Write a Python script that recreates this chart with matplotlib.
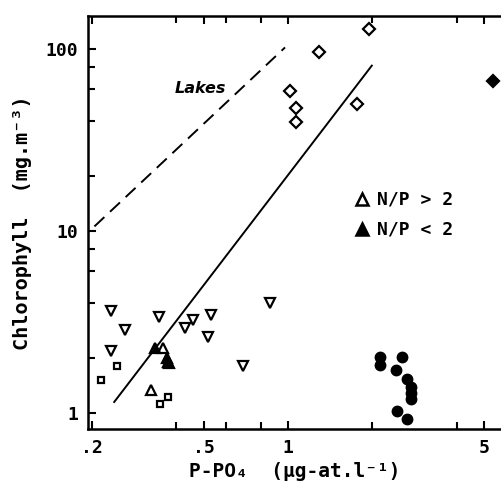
import matplotlib
matplotlib.use("Agg")
import matplotlib.pyplot as plt
from matplotlib.ticker import FixedLocator, FixedFormatter, NullFormatter

# ---- data ----
diamond_open_x = [1.95, 1.29, 1.02, 1.07, 1.07, 1.76]
diamond_open_y = [128, 96, 58.8, 47.6, 39.7, 50]
diamond_fill_x = [5.37]
diamond_fill_y = [66.7]

tri_down_x = [0.234, 0.348, 0.262, 0.459, 0.430, 0.530, 0.520, 0.234, 0.689, 0.863]
tri_down_y = [3.65, 3.36, 2.86, 3.24, 2.92, 3.45, 2.63, 2.20, 1.81, 4.04]

tri_up_open_x = [0.324, 0.359, 0.377]
tri_up_open_y = [1.34, 2.27, 1.88]
tri_up_fill_x = [0.336, 0.369, 0.372]
tri_up_fill_y = [2.27, 2.00, 1.91]

square_x = [0.215, 0.245, 0.350, 0.374]
square_y = [1.52, 1.82, 1.12, 1.23]

circle_x = [2.13, 2.13, 2.54, 2.43, 2.65, 2.75, 2.75, 2.75, 2.44, 2.65]
circle_y = [2.04, 1.84, 2.02, 1.72, 1.53, 1.39, 1.29, 1.20, 1.03, 0.923]

fit_x = [0.240, 1.99]
fit_y = [1.15, 81]
lakes_x = [0.204, 0.976]
lakes_y = [10.6, 102]

x_major = [0.2, 0.5, 1, 5]
x_major_labels = [".2", ".5", "1", "5"]
x_minor = [0.4, 0.6, 0.8, 2, 4]
y_major = [1, 10, 100]
y_major_labels = ["1", "10", "100"]
y_minor = [2, 4, 6, 8, 20, 40, 60, 80]

legend_labels = ["N/P > 2", "N/P < 2"]

# ---- figure ----
mono = "DejaVu Sans Mono"
fig = plt.figure(figsize=(5.01, 4.86), dpi=100)
L, B = 88 / 501, (486 - 429) / 486
ax = fig.add_axes([L, B, 1.0 - L, (429 - 16) / 486])
ax.set_xscale("log")
ax.set_yscale("log")
ax.set_xlim(0.1935, 5.75)
ax.set_ylim(0.817, 151.8)

k = "black"
ax.plot(lakes_x, lakes_y, color=k, lw=1.4, dashes=(7, 4))
ax.plot(fit_x, fit_y, color=k, lw=1.4)

ms = 7.5
mew = 1.6
ax.plot(diamond_open_x, diamond_open_y, "D", ms=6.5, mfc="white", mec=k, mew=mew, ls="none")
ax.plot(diamond_fill_x, diamond_fill_y, "D", ms=6.5, mfc=k, mec=k, mew=mew, ls="none")
ax.plot(tri_down_x, tri_down_y, "v", ms=ms, mfc="white", mec=k, mew=mew, ls="none")
ax.plot(tri_up_open_x, tri_up_open_y, "^", ms=ms, mfc="white", mec=k, mew=mew, ls="none")
ax.plot(tri_up_fill_x, tri_up_fill_y, "^", ms=ms, mfc=k, mec=k, mew=mew, ls="none")
ax.plot(square_x, square_y, "s", ms=5, mfc="white", mec=k, mew=mew, ls="none")
ax.plot(circle_x, circle_y, "o", ms=7.5, mfc=k, mec=k, ls="none")

ax.text(0.486, 60.3, "Lakes", fontsize=11.5, fontstyle="italic", fontweight="bold",
        family="DejaVu Sans", ha="center", va="center")

# legend drawn manually
for yy, filled, lab in [(199, False, legend_labels[0]), (229, True, legend_labels[1])]:
    fy = 1 - yy / 486
    ax.plot([362 / 501], [fy], "^", ms=8, mfc=(k if filled else "white"), mec=k, mew=1.8,
            transform=fig.transFigure, clip_on=False)
    fig.text(377 / 501, fy, lab, fontsize=13, family=mono, fontweight="bold",
             ha="left", va="center")

# spines
for s in ["left", "bottom", "top"]:
    ax.spines[s].set_linewidth(1.8)
ax.spines["right"].set_visible(False)

ax.xaxis.set_major_locator(FixedLocator(x_major))
ax.xaxis.set_major_formatter(FixedFormatter(x_major_labels))
ax.xaxis.set_minor_locator(FixedLocator(x_minor))
ax.xaxis.set_minor_formatter(NullFormatter())
ax.yaxis.set_major_locator(FixedLocator(y_major))
ax.yaxis.set_major_formatter(FixedFormatter(y_major_labels))
ax.yaxis.set_minor_locator(FixedLocator(y_minor))
ax.yaxis.set_minor_formatter(NullFormatter())

ax.tick_params(which="both", direction="in", top=True, right=False, width=1.5, color=k)
ax.tick_params(which="major", length=6, labelsize=13, pad=7)
ax.tick_params(which="minor", length=5)
for lbl in ax.get_xticklabels() + ax.get_yticklabels():
    lbl.set_family(mono)
    lbl.set_fontweight("bold")

ax.set_xlabel("P-PO\u2084  (\u00b5g-at.l\u207b\u00b9)", fontsize=14, family=mono,
              fontweight="bold", labelpad=4)
ax.set_ylabel("Chlorophyll  (mg.m\u207b\u00b3)", fontsize=14.5, family=mono,
              fontweight="bold", labelpad=10)

fig.savefig("out.png", dpi=100)
